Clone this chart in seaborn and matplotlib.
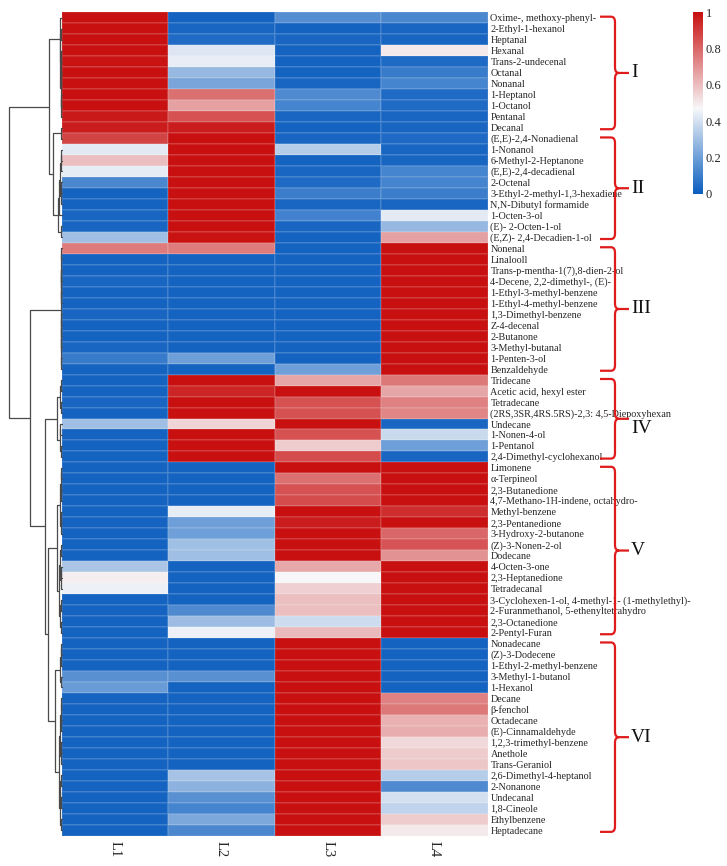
import matplotlib
matplotlib.use("Agg")
import pandas as pd
import matplotlib.pyplot as plt
import matplotlib.transforms as mtransforms
from matplotlib.colors import LinearSegmentedColormap
from matplotlib.path import Path
from matplotlib.patches import PathPatch
import seaborn as sns

# compounds, top to bottom as in the clustered heatmap
compounds = [
    "Oxime-, methoxy-phenyl-", "2-Ethyl-1-hexanol", "Heptanal", "Hexanal", "Trans-2-undecenal",
    "Octanal", "Nonanal", "1-Heptanol", "1-Octanol", "Pentanal", "Decanal",
    "(E,E)-2,4-Nonadienal", "1-Nonanol", "6-Methyl-2-Heptanone", "(E,E)-2,4-decadienal", "2-Octenal",
    "3-Ethyl-2-methyl-1,3-hexadiene", "N,N-Dibutyl formamide", "1-Octen-3-ol", "(E)- 2-Octen-1-ol",
    "(E,Z)- 2,4-Decadien-1-ol",
    "Nonenal", "Linalooll", "Trans-p-mentha-1(7),8-dien-2-ol", "4-Decene, 2,2-dimethyl-, (E)-",
    "1-Ethyl-3-methyl-benzene", "1-Ethyl-4-methyl-benzene", "1,3-Dimethyl-benzene", "Z-4-decenal",
    "2-Butanone", "3-Methyl-butanal", "1-Penten-3-ol", "Benzaldehyde",
    "Tridecane", "Acetic acid, hexyl ester", "Tetradecane", "(2RS,3SR,4RS.5RS)-2,3: 4,5-Diepoxyhexan",
    "Undecane", "1-Nonen-4-ol", "1-Pentanol", "2,4-Dimethyl-cyclohexanol",
    "Limonene", "α-Terpineol", "2,3-Butanedione", "4,7-Methano-1H-indene, octahydro-", "Methyl-benzene",
    "2,3-Pentanedione", "3-Hydroxy-2-butanone", "(Z)-3-Nonen-2-ol", "Dodecane", "4-Octen-3-one",
    "2,3-Heptanedione", "Tetradecanal", "3-Cyclohexen-1-ol, 4-methyl-1- (1-methylethyl)-",
    "2-Furanmethanol, 5-ethenyltetrahydro", "2,3-Octanedione", "2-Pentyl-Furan",
    "Nonadecane", "(Z)-3-Dodecene", "1-Ethyl-2-methyl-benzene", "3-Methyl-1-butanol", "1-Hexanol",
    "Decane", "β-fenchol", "Octadecane", "(E)-Cinnamaldehyde", "1,2,3-trimethyl-benzene", "Anethole",
    "Trans-Geraniol", "2,6-Dimethyl-4-heptanol", "2-Nonanone", "Undecanal", "1,8-Cineole",
    "Ethylbenzene", "Heptadecane",
]
samples = ["L1", "L2", "L3", "L4"]

L1 = [1.0, 1.0, 1.0, 1.0, 0.99, 1.0, 1.0, 1.0, 1.0, 0.98, 0.97,
      0.88, 0.43, 0.6, 0.44, 0.13, 0.02, 0.02, 0.03, 0.03, 0.3,
      0.75, 0.02, 0.02, 0.03, 0.02, 0.02, 0.03, 0.02, 0.02, 0.03, 0.09, 0.02,
      0.02, 0.02, 0.03, 0.02, 0.3, 0.02, 0.02, 0.02,
      0.02, 0.02, 0.02, 0.02, 0.02, 0.02, 0.02, 0.02, 0.02, 0.32, 0.49, 0.45, 0.02, 0.02, 0.02, 0.02,
      0.02, 0.02, 0.02, 0.16, 0.19, 0.02, 0.02, 0.02, 0.02, 0.02, 0.02, 0.02, 0.02, 0.02, 0.02,
      0.02, 0.02, 0.02]
L2 = [0.02, 0.03, 0.04, 0.42, 0.44, 0.28, 0.22, 0.78, 0.67, 0.85, 0.97,
      1.0, 1.0, 1.0, 1.0, 1.0, 1.0, 1.0, 1.0, 1.0, 0.99,
      0.75, 0.02, 0.02, 0.02, 0.02, 0.02, 0.02, 0.02, 0.02, 0.02, 0.2, 0.02,
      1.0, 0.95, 1.0, 1.0, 0.55, 1.0, 1.0, 1.0,
      0.02, 0.02, 0.02, 0.02, 0.44, 0.2, 0.2, 0.3, 0.3, 0.02, 0.02, 0.02, 0.02, 0.14, 0.29, 0.45,
      0.02, 0.02, 0.02, 0.16, 0.02, 0.02, 0.02, 0.02, 0.02, 0.02, 0.02, 0.02, 0.31, 0.26, 0.16,
      0.12, 0.23, 0.13]
L3 = [0.15, 0.02, 0.03, 0.02, 0.02, 0.02, 0.03, 0.14, 0.12, 0.03, 0.02,
      0.03, 0.34, 0.02, 0.03, 0.04, 0.1, 0.03, 0.11, 0.03, 0.02,
      0.02, 0.02, 0.02, 0.02, 0.02, 0.02, 0.02, 0.02, 0.02, 0.02, 0.02, 0.2,
      0.66, 1.0, 0.85, 0.85, 1.0, 0.85, 0.57, 0.86,
      1.0, 0.78, 0.85, 0.86, 1.0, 0.97, 1.0, 1.0, 1.0, 0.65, 0.47, 0.56, 0.6, 0.6, 0.39, 0.61,
      1.0, 1.0, 1.0, 1.0, 1.0, 1.0, 1.0, 1.0, 1.0, 1.0, 1.0, 1.0, 1.0, 1.0, 1.0,
      1.0, 1.0, 1.0]
L4 = [0.13, 0.03, 0.03, 0.5, 0.04, 0.09, 0.12, 0.04, 0.04, 0.03, 0.03,
      0.04, 0.03, 0.03, 0.12, 0.12, 0.1, 0.03, 0.43, 0.28, 0.67,
      1.0, 1.0, 1.0, 1.0, 1.0, 1.0, 1.0, 1.0, 1.0, 1.0, 1.0, 1.0,
      0.76, 0.66, 0.74, 0.73, 0.03, 0.38, 0.2, 0.03,
      1.0, 1.0, 1.0, 1.0, 0.93, 1.0, 0.8, 0.84, 0.7, 1.0, 1.0, 1.0, 1.0, 1.0, 1.0, 1.0,
      0.02, 0.02, 0.02, 0.02, 0.02, 0.74, 0.76, 0.63, 0.64, 0.54, 0.57, 0.58, 0.34, 0.14, 0.4,
      0.36, 0.57, 0.5]

group_names = ["I", "II", "III", "IV", "V", "VI"]
group_sizes = [11, 10, 12, 8, 16, 18]

# row dendrogram as (left, right, height); ints are row numbers
t1 = (0, ((1, 2, 0.5), (((3, 4, 0.6), (5, 6, 0.5), 0.8), ((7, 8, 0.6), 9, 0.7), 1.0), 1.2), 1.7)
t2 = ((10, 11, 1.0), (((((12, 13, 0.5), 14, 0.9), ((15, 16, 0.4), 17, 0.8), 1.4), 18, 2.2),
                      (19, 20, 1.0), 3.7), 8.3)
t3 = (((21, 22, 0.3), ((23, 24, 0.2), (25, 26, 0.2), 0.3), 0.5),
      ((((27, 28, 0.2), 29, 0.3), 30, 0.4), (31, 32, 0.3), 0.6), 1.0)
t4 = (((33, 34, 0.9), (35, 36, 0.5), 1.4), ((37, 38, 1.2), (39, 40, 0.8), 2.0), 4.3)
t5 = ((((41, 42, 0.6), (43, 44, 0.4), 0.9), ((45, 46, 0.8), 47, 1.0), 1.6),
      (((48, 49, 0.5), ((50, 51, 0.7), 52, 0.9), 1.5), ((53, 54, 0.4), (55, 56, 0.9), 1.2), 2.4), 4.3)
t6 = ((((57, 58, 0.3), 59, 0.5), (60, 61, 0.9), 1.6),
      ((((62, 63, 0.5), (64, 65, 0.5), 0.9), ((66, 67, 0.4), 68, 0.6), 1.3),
       (((69, 70, 1.0), (71, 72, 0.6), 1.3), (73, 74, 0.5), 1.8), 2.7), 7.0)
tree = ((t1, t2, 12.7), (t3, (t4, (t5, t6, 13.3), 16.7), 31.0), 52.0)


def draw_tree(ax, node):
    if isinstance(node, int):
        return node + 0.5, 0.0
    left, right, h = node
    yl, hl = draw_tree(ax, left)
    yr, hr = draw_tree(ax, right)
    ax.plot([hl, h, h, hr], [yl, yl, yr, yr], color="#4a4a4a", lw=0.9, clip_on=False)
    return (yl + yr) / 2, h


sns.set_style("white")
plt.rcParams["font.family"] = ["Liberation Serif", "DejaVu Serif"]

df = pd.DataFrame({"L1": L1, "L2": L2, "L3": L3, "L4": L4}, index=compounds)
cmap = LinearSegmentedColormap.from_list(
    "bwr_custom", [(0.0, "#0a5dbf"), (0.47, "#f7f7f9"), (1.0, "#c81010")])

W, H = 727, 866
fig = plt.figure(figsize=(W / 100, H / 100), dpi=100)
ax = fig.add_axes([61.7 / W, 1 - 835.7 / H, 426 / W, 823.4 / H])
dax = fig.add_axes([9 / W, 1 - 835.7 / H, 52.7 / W, 823.4 / H])
cax = fig.add_axes([693 / W, 1 - 194 / H, 10 / W, 181.7 / H])

sns.heatmap(df, ax=ax, cmap=cmap, vmin=0, vmax=1, cbar_ax=cax,
            xticklabels=samples, yticklabels=compounds,
            linewidths=0.25, linecolor=(1, 1, 1, 0.1))
ax.yaxis.tick_right()
ax.tick_params(axis="y", length=0, pad=2, labelsize=7.3, labelrotation=0)
ax.tick_params(axis="x", length=0, pad=4, labelsize=10.5, labelrotation=-90)

cbar = ax.collections[0].colorbar
cbar.outline.set_visible(False)
cbar.set_ticks([0, 0.2, 0.4, 0.6, 0.8, 1])
cbar.set_ticklabels(["0", "0.2", "0.4", "0.6", "0.8", "1"])
cax.tick_params(length=0, pad=2, labelsize=9)

draw_tree(dax, tree)
dax.set_ylim(len(compounds), 0)
dax.set_xlim(52, 0)
dax.axis("off")

# red braces with group numerals
trans = mtransforms.blended_transform_factory(fig.transFigure, ax.transData)
xh, xv, xt, dx = 600 / W, 615 / W, 629 / W, 4 / W
codes = [Path.MOVETO, Path.LINETO, Path.CURVE3, Path.CURVE3, Path.LINETO, Path.CURVE3, Path.CURVE3,
         Path.LINETO, Path.MOVETO, Path.CURVE3, Path.CURVE3, Path.LINETO, Path.CURVE3, Path.CURVE3,
         Path.LINETO]
numeral_drop = [0, 0, 0, 0.9, 0, 0]
start = 0
for name, n, drop in zip(group_names, group_sizes, numeral_drop):
    y0, y1 = start + 0.4, start + n - 0.35
    ym = (y0 + y1) / 2
    verts = [(xh, y0), (xv - dx, y0), (xv, y0), (xv, y0 + 0.5),
             (xv, ym - 0.5), (xv, ym), (xv + dx, ym), (xt, ym),
             (xv + dx, ym), (xv, ym), (xv, ym + 0.5),
             (xv, y1 - 0.5), (xv, y1), (xv - dx, y1), (xh, y1)]
    ax.add_patch(PathPatch(Path(verts, codes), transform=trans, fill=False,
                           edgecolor="#e01b1b", lw=1.6, clip_on=False))
    ax.text(631 / W, ym + drop, name, transform=trans, ha="left", va="center",
            fontsize=14, color="#111111")
    start += n

plt.savefig("out.png", dpi=100)
plt.close()
